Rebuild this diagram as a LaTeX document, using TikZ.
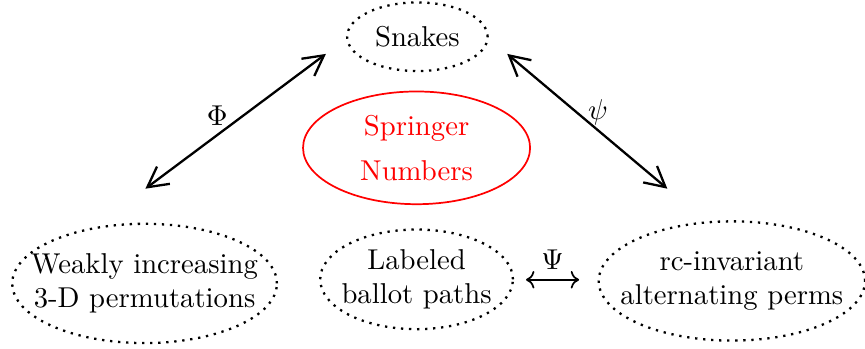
\documentclass[tikz,border=0pt]{standalone}
\usetikzlibrary{arrows.meta}

\begin{document}
\begin{tikzpicture}[x={10.0mm},y={10.0mm},
  dotring/.style={thick,dotted},
  bij/.style={thick,{Straight Barb[length=7pt,width=7.5pt]}-{Straight Barb[length=7pt,width=7.5pt]}}]
\useasboundingbox (0,0) rectangle (10.59,4.27);

\node (snakes) at (5.11,3.82) {Snakes};
\draw [dotring] (snakes) ellipse [x radius=0.86, y radius=0.42];

\node [red, align=center] (springer) at (5.10,2.46) {Springer\\[3.7pt]Numbers};
\draw [red, semithick] (springer) ellipse [x radius=1.39, y radius=0.69];

\node [align=center] (weakly) at (1.77,0.80) {Weakly increasing\\3-D permutations};
\draw [dotring] (weakly) ellipse [x radius=1.62, y radius=0.73];

\node [align=center] (ballot) at (5.10,0.85) {Labeled\\ballot paths};
\draw [dotring] (ballot) ellipse [x radius=1.18, y radius=0.61];

\node [align=center] (rcinv) at (8.96,0.83) {rc-invariant\\alternating perms};
\draw [dotring] (rcinv) ellipse [x radius=1.63, y radius=0.73];

\coordinate (PhiLow) at (1.78,1.96);
\coordinate (PhiHigh) at (3.99,3.61);
\draw [bij] (PhiLow) -- (PhiHigh);
\node (Philab) at (2.66,2.85) {$\Phi$};

\coordinate (psiHigh) at (6.21,3.61);
\coordinate (psiLow) at (8.17,1.96);
\draw [bij] (psiHigh) -- (psiLow);
\node (psilab) at (7.32,2.90) {$\psi$};

\coordinate (PsiLeft) at (6.44,0.845);
\coordinate (PsiRight) at (7.09,0.845);
\draw [semithick,<->] (PsiLeft) -- (PsiRight) node [midway, above] (Psilab) {$\Psi$};

\end{tikzpicture}
\end{document}
